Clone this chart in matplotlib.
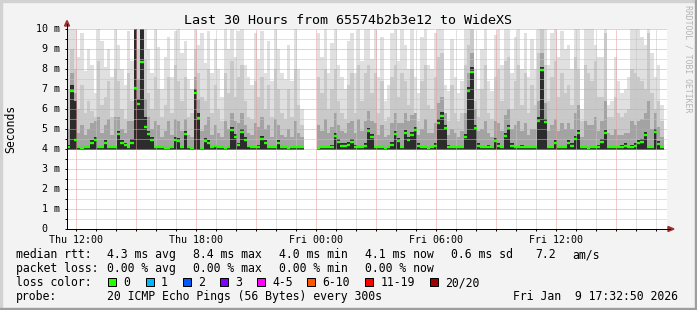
import numpy as np
import matplotlib
matplotlib.use("Agg")
import matplotlib.pyplot as plt
import matplotlib.dates as mdates
import matplotlib.transforms as mtransforms
from matplotlib.patches import Polygon, Rectangle
from datetime import datetime, timedelta

nan = np.nan

# 30 hours of 10 minute bins, values in milliseconds
start = datetime(2026, 1, 8, 11, 32, 50)
step_min = 10

median = [
    4.10, 6.90, 4.45, 4.10, 4.05, 4.08, 4.10, 4.30, 4.45, 4.10,
    4.10, 4.30, 4.10, 4.12, 4.10, 4.75, 4.30, 4.20, 4.10, 4.30,
    7.05, 6.25, 8.35, 5.10, 4.75, 4.45, 4.12, 4.10, 4.08, 4.05,
    4.07, 4.10, 4.45, 4.40, 4.10, 4.75, 4.10, 4.05, 6.80, 5.55,
    4.05, 4.40, 4.30, 4.10, 4.15, 4.10, 4.08, 4.07, 4.10, 4.95,
    4.60, 4.20, 4.85, 4.45, 4.15, 4.10, 4.10, 4.12, 4.50, 4.30,
    4.08, 4.10, 4.10, 4.30, 4.10, 4.08, 4.07, 4.08, 4.10, 4.10,
    4.08, nan, nan, nan, nan, 4.05, 4.08, 4.10, 4.10, 4.12,
    4.65, 4.35, 4.15, 4.15, 4.20, 4.35, 4.12, 4.10, 4.10, 4.15,
    4.90, 4.60, 4.10, 4.10, 4.08, 4.05, 4.10, 4.20, 4.75, 4.40,
    4.10, 4.80, 4.45, 4.70, 4.95, 4.15, 4.10, 4.10, 4.05, 4.10,
    4.15, 5.30, 5.65, 5.05, 4.12, 4.10, 4.10, 4.08, 4.10, 4.60,
    6.90, 7.85, 5.05, 4.15, 4.10, 4.10, 4.12, 4.10, 4.40, 4.15,
    4.10, 4.65, 5.05, 4.15, 4.10, 4.10, 4.12, 4.10, 4.08, 4.10,
    4.10, 5.40, 7.95, 5.35, 4.10, 4.10, 4.30, 4.08, 4.10, 4.10,
    4.30, 4.15, 4.50, 4.80, 4.10, 4.08, 4.07, 4.10, 4.10, 4.12,
    4.35, 4.80, 4.10, 4.10, 4.08, 4.10, 4.12, 4.15, 4.10, 4.12,
    4.15, 4.30, 4.35, 4.70, 4.10, 4.10, 4.85, 4.25, 4.08, nan,
]

# smoke: outer (slowest ping) down to the core around the median
smoke_max = [
    10.0, 10.5, 10.0, 8.6, 9.8, 7.9, 9.0, 8.2, 6.8, 10.0,
    9.4, 8.1, 9.0, 7.6, 10.0, 9.2, 8.0, 7.2, 9.9, 8.4,
    10.5, 10.0, 10.5, 10.0, 9.0, 7.8, 10.0, 9.1, 7.0, 8.6,
    9.6, 7.6, 9.9, 10.0, 8.8, 9.4, 7.5, 7.0, 10.0, 9.2,
    9.8, 8.3, 9.9, 7.8, 9.5, 8.0, 6.6, 10.0, 9.0, 10.5,
    8.6, 9.9, 10.0, 8.2, 7.6, 7.2, 9.8, 8.5, 9.9, 7.8,
    9.4, 7.4, 10.0, 9.0, 7.8, 7.5, 9.2, 7.4, 10.0, 8.0,
    6.0, nan, nan, nan, nan, 9.8, 8.6, 10.0, 7.8, 9.3,
    10.0, 8.2, 7.6, 7.0, 9.4, 9.8, 7.8, 10.0, 8.4, 10.0,
    10.0, 8.5, 10.0, 7.6, 9.6, 6.4, 7.2, 9.8, 10.0, 8.4,
    10.0, 9.2, 8.0, 10.0, 7.6, 6.8, 9.6, 10.0, 8.2, 8.0,
    9.8, 10.0, 10.0, 7.2, 6.9, 9.5, 7.6, 6.8, 7.4, 10.0,
    10.5, 10.5, 8.0, 7.0, 9.0, 10.0, 7.4, 6.9, 9.7, 10.0,
    8.2, 10.0, 10.0, 7.8, 9.6, 10.0, 8.0, 9.8, 7.6, 9.5,
    8.0, 10.5, 10.5, 10.0, 8.2, 9.8, 10.0, 8.6, 9.9, 9.0,
    9.2, 8.0, 10.0, 10.0, 6.0, 10.0, 10.0, 10.0, 9.2, 8.6,
    8.6, 10.0, 6.2, 6.4, 8.6, 7.4, 6.8, 7.0, 7.6, 10.0,
    10.0, 10.0, 9.6, 9.2, 10.0, 8.8, 7.6, 8.2, 6.2, nan,
]

smoke_hi = [
    7.0, 9.0, 8.0, 6.0, 7.2, 5.8, 6.4, 5.9, 5.6, 8.4,
    6.2, 6.6, 7.4, 5.6, 8.0, 7.4, 6.0, 5.5, 7.8, 6.4,
    9.5, 9.0, 10.2, 8.5, 6.8, 6.0, 7.6, 7.0, 5.6, 6.2,
    7.6, 5.8, 8.2, 7.4, 6.4, 7.6, 5.6, 5.8, 9.0, 7.8,
    6.6, 6.4, 8.0, 5.8, 7.2, 6.0, 5.4, 7.8, 6.8, 8.4,
    6.6, 7.6, 8.2, 6.4, 5.6, 5.5, 7.4, 6.6, 7.6, 6.0,
    7.2, 5.6, 8.0, 7.0, 5.8, 5.5, 7.0, 5.6, 8.0, 6.2,
    5.2, nan, nan, nan, nan, 7.6, 6.8, 8.0, 6.0, 7.0,
    8.0, 6.4, 5.8, 5.5, 7.2, 7.8, 5.8, 8.2, 6.4, 7.8,
    8.2, 6.8, 7.8, 5.8, 7.4, 5.4, 5.6, 7.6, 8.2, 6.6,
    7.8, 7.4, 6.2, 8.0, 5.8, 5.4, 7.4, 8.2, 6.2, 6.0,
    7.6, 8.6, 8.8, 5.8, 5.4, 7.2, 5.8, 5.4, 5.8, 8.2,
    9.2, 10.2, 6.4, 5.6, 7.0, 8.2, 5.8, 5.5, 7.6, 8.0,
    6.4, 8.4, 8.6, 6.0, 7.4, 8.2, 6.2, 7.8, 5.8, 7.2,
    6.2, 8.8, 10.2, 8.2, 6.4, 7.6, 8.4, 6.6, 7.8, 6.8,
    7.2, 6.2, 8.6, 8.0, 5.4, 8.2, 7.8, 7.4, 8.4, 6.6,
    6.6, 9.8, 5.6, 5.6, 6.6, 5.8, 5.6, 5.8, 6.0, 8.0,
    7.8, 7.6, 7.4, 7.0, 9.8, 6.8, 6.0, 6.4, 5.4, nan,
]

smoke_mid = [
    5.0, 7.8, 6.8, 4.8, 5.2, 4.7, 5.0, 5.3, 5.4, 5.6,
    4.8, 5.2, 5.5, 4.7, 5.6, 5.6, 5.0, 4.8, 5.4, 5.4,
    8.5, 7.5, 10.0, 6.5, 5.6, 5.0, 5.4, 5.2, 4.6, 4.9,
    5.4, 4.7, 5.5, 5.4, 4.9, 5.5, 4.7, 4.6, 7.6, 6.5,
    4.9, 5.2, 5.6, 4.7, 5.2, 4.8, 4.6, 5.4, 5.0, 5.8,
    5.4, 5.3, 5.8, 5.2, 4.8, 4.7, 5.3, 5.1, 5.6, 5.0,
    5.2, 4.6, 5.5, 5.2, 4.7, 4.6, 5.0, 4.6, 5.4, 4.8,
    4.6, nan, nan, nan, nan, 5.2, 4.9, 5.5, 4.8, 5.1,
    5.8, 5.2, 4.9, 4.8, 5.3, 5.4, 4.8, 5.5, 4.9, 5.4,
    5.9, 5.4, 5.3, 4.7, 5.2, 4.6, 4.7, 5.3, 5.8, 5.3,
    5.3, 5.8, 5.4, 5.7, 5.8, 4.7, 5.0, 5.5, 4.8, 4.8,
    5.3, 6.3, 6.6, 5.8, 4.7, 5.0, 4.8, 4.6, 4.9, 5.8,
    7.8, 8.8, 6.0, 4.9, 5.0, 5.4, 4.8, 4.6, 5.4, 5.3,
    4.9, 5.7, 6.0, 5.0, 5.2, 5.4, 4.9, 5.3, 4.7, 5.0,
    5.0, 6.4, 8.8, 6.3, 4.9, 5.2, 5.5, 4.9, 5.3, 5.0,
    5.3, 5.0, 5.8, 6.2, 4.6, 5.4, 5.2, 5.2, 5.6, 4.9,
    5.4, 6.4, 4.8, 4.7, 5.0, 4.7, 4.7, 4.8, 4.8, 5.4,
    5.2, 5.4, 5.5, 5.8, 6.4, 5.0, 5.8, 5.1, 4.6, nan,
]

smoke_core = [
    4.18, 7.20, 6.40, 4.12, 4.10, 4.12, 4.12, 4.45, 4.60, 4.12,
    4.12, 4.45, 4.12, 4.12, 4.12, 4.90, 4.45, 4.30, 4.12, 4.50,
    10.0, 6.50, 10.0, 5.60, 4.90, 4.60, 4.12, 4.12, 4.10, 4.10,
    4.12, 4.12, 4.60, 4.55, 4.12, 4.90, 4.12, 4.10, 7.00, 5.80,
    4.12, 4.55, 4.45, 4.12, 4.18, 4.12, 4.10, 4.12, 4.12, 5.10,
    4.75, 4.30, 5.00, 4.60, 4.18, 4.12, 4.12, 4.18, 4.65, 4.45,
    4.12, 4.12, 4.12, 4.45, 4.12, 4.10, 4.10, 4.12, 4.12, 4.12,
    4.10, nan, nan, nan, nan, 4.10, 4.12, 4.12, 4.12, 4.18,
    4.80, 4.50, 4.30, 4.30, 4.35, 4.50, 4.18, 4.12, 4.12, 4.30,
    5.05, 4.75, 4.12, 4.12, 4.12, 4.10, 4.12, 4.35, 4.90, 4.55,
    4.12, 4.95, 4.60, 4.85, 5.10, 4.30, 4.12, 4.12, 4.10, 4.12,
    4.30, 5.50, 5.85, 5.20, 4.18, 4.12, 4.12, 4.12, 4.12, 4.75,
    7.10, 8.10, 5.20, 4.30, 4.12, 4.12, 4.18, 4.12, 4.55, 4.30,
    4.12, 4.80, 5.20, 4.30, 4.12, 4.12, 4.18, 4.12, 4.12, 4.12,
    4.12, 5.60, 8.10, 5.50, 4.12, 4.12, 4.45, 4.12, 4.12, 4.12,
    4.45, 4.30, 4.65, 4.95, 4.12, 4.12, 4.10, 4.12, 4.12, 4.18,
    4.50, 4.95, 4.12, 4.12, 4.12, 4.12, 4.18, 4.30, 4.12, 4.18,
    4.30, 4.45, 4.50, 4.85, 4.12, 4.12, 5.00, 4.40, 4.12, nan,
]
smoke_floor = 3.95

smoke_layers = [
    (smoke_max, "#e0e0e0"),
    (smoke_hi, "#c9c9c9"),
    (smoke_mid, "#a3a3a3"),
    (smoke_core, "#2c2c2c"),
]

legend_rows = [
    ("median rtt:", [("4.3 ms avg", 107), ("8.4 ms max", 193), ("4.0 ms min", 279),
                     ("4.1 ms now", 365), ("0.6 ms sd", 451), ("7.2", 535), ("am/s", 572)]),
    ("packet loss:", [("0.00 % avg", 107), ("0.00 % max", 193), ("0.00 % min", 279),
                      ("0.00 % now", 365)]),
]
loss_labels = ["0", "1", "2", "3", "4-5", "6-10", "11-19", "20/20"]
loss_colors = ["#26ff00", "#00b8ff", "#0059ff", "#7e00ff", "#ff00ff", "#ff5500", "#ff0000", "#a10000"]
loss_x = [108, 145.5, 182.5, 219.5, 256.5, 306.5, 365, 430]

W, H = 697, 310
plt.rcParams['font.family'] = ['DejaVu Sans Mono']

fig = plt.figure(figsize=(W / 100, H / 100), dpi=100, facecolor="#f3f3f3")


def px(x, y):
    return x / W, 1 - y / H


ax = fig.add_axes([67 / W, 1 - 229 / H, 600 / W, 200 / H])
ax.set_facecolor("white")

n = len(median)
edges = mdates.date2num([start + timedelta(minutes=step_min * i) for i in range(n + 1)])


def runs(vals):
    # contiguous stretches of valid samples
    ok = ~np.isnan(np.asarray(vals, dtype=float))
    i = 0
    while i < n:
        if ok[i]:
            j = i
            while j < n and ok[j]:
                j += 1
            yield i, j
            i = j
        else:
            i += 1


for vals, col in smoke_layers:
    v = np.asarray(vals, dtype=float)
    for a, b in runs(v):
        y = np.append(v[a:b], v[b - 1])
        ax.fill_between(edges[a:b + 1], smoke_floor, y, step="post",
                        color=col, linewidth=0, zorder=1)

med = np.asarray(median, dtype=float)
ok = ~np.isnan(med)
ax.hlines(med[ok], edges[:-1][ok], edges[1:][ok], colors=loss_colors[0],
          linewidth=1.7, zorder=3)

ax.set_xlim(edges[0], mdates.date2num(start + timedelta(hours=30)))
ax.set_ylim(0, 10)

# grid
ax.xaxis.set_major_locator(mdates.HourLocator(byhour=range(0, 24, 3)))
ax.xaxis.set_minor_locator(mdates.HourLocator())


def xfmt(x, pos):
    d = mdates.num2date(x)
    return d.strftime("%a %H:%M") if d.hour % 6 == 0 else ""


ax.xaxis.set_major_formatter(plt.FuncFormatter(xfmt))
ax.set_yticks(np.arange(0, 11, 1))
ax.set_yticks(np.arange(0, 10.01, 0.5), minor=True)
ax.set_yticklabels([])
ax.set_axisbelow(False)
ax.grid(which="minor", color="#c4c4c4", linestyle=(0, (1, 1)), linewidth=0.72)
ax.grid(which="major", color="#e89a9a", linestyle=(0, (1, 1)), linewidth=0.72)
ax.tick_params(axis="both", which="both", direction="out", length=1.5, width=0.72,
               color="black")
ax.tick_params(axis="x", which="major", labelsize=7.2, pad=2.5)

for s in ["top", "right"]:
    ax.spines[s].set_visible(False)
for s in ["left", "bottom"]:
    ax.spines[s].set_linewidth(0.72)
    ax.spines[s].set_color("black")

ytr = mtransforms.blended_transform_factory(ax.transAxes, ax.transData)
for v in range(0, 11):
    if v == 0:
        ax.text(-20 / 600, v, "0", transform=ytr, ha="right", va="center", size=7.2)
    else:
        ax.text(-7 / 600, v, f"{v} m", transform=ytr, ha="right", va="center", size=7.2)

# axis extensions and arrows
fig.add_artist(plt.Line2D([67 / W, 67 / W], [1 - 229 / H, 1 - 24 / H], color="black",
                          linewidth=0.72, transform=fig.transFigure))
fig.add_artist(plt.Line2D([667 / W, 670 / W], [1 - 229 / H, 1 - 229 / H], color="black",
                          linewidth=0.72, transform=fig.transFigure))
fig.add_artist(Polygon([px(64.5, 26), px(69.5, 26), px(67, 20.5)], closed=True,
                       color="#9b2f2f", transform=fig.transFigure))
fig.add_artist(Polygon([px(668, 226.5), px(668, 231.5), px(674, 229)], closed=True,
                       color="#9b2f2f", transform=fig.transFigure))

# texts
fig.text(*px(348.5, 24), "Last 30 Hours from 65574b2b3e12 to WideXS",
         ha="center", va="baseline", size=9.6)
fig.text(*px(11, 129), "Seconds", rotation=90, ha="center", va="center", size=8.3)
fig.text(*px(688, 5), "RRDTOOL / TOBI OETIKER", rotation=270, ha="center", va="top",
         size=5.9, color="#b4b4b4")

for row, (head, items) in enumerate(legend_rows):
    yb = 258 + 14 * row
    fig.text(*px(16, yb), head, va="baseline", size=8.3)
    for txt, x in items:
        fig.text(*px(x, yb), txt, va="baseline", size=8.3)

fig.text(*px(16, 286), "loss color:", va="baseline", size=8.3)
for lab, col, x in zip(loss_labels, loss_colors, loss_x):
    x0, y0 = px(x, 285.5)
    fig.add_artist(Rectangle((x0, y0), 8 / W, 8 / H, facecolor=col, edgecolor="black",
                             linewidth=0.72, transform=fig.transFigure))
    fig.text(*px(x + 15.5, 286), lab, va="baseline", size=8.3)

fig.text(*px(16, 300), "probe:", va="baseline", size=8.3)
fig.text(*px(107, 300), "20 ICMP Echo Pings (56 Bytes) every 300s", va="baseline", size=8.3)
fig.text(*px(513, 300), "Fri Jan  9 17:32:50 2026", va="baseline", size=8.3)

# frame
fig.add_artist(Rectangle((0, 1 - 2 / H), 1, 2 / H, color="#d2d2d2", transform=fig.transFigure))
fig.add_artist(Rectangle((0, 0), 2 / W, 1, color="#d2d2d2", transform=fig.transFigure))
fig.add_artist(Rectangle((0, 0), 1, 2 / H, color="#9e9e9e", transform=fig.transFigure))
fig.add_artist(Rectangle((1 - 2 / W, 0), 2 / W, 1, color="#9e9e9e", transform=fig.transFigure))

fig.savefig("out.png", dpi=100, facecolor=fig.get_facecolor())
